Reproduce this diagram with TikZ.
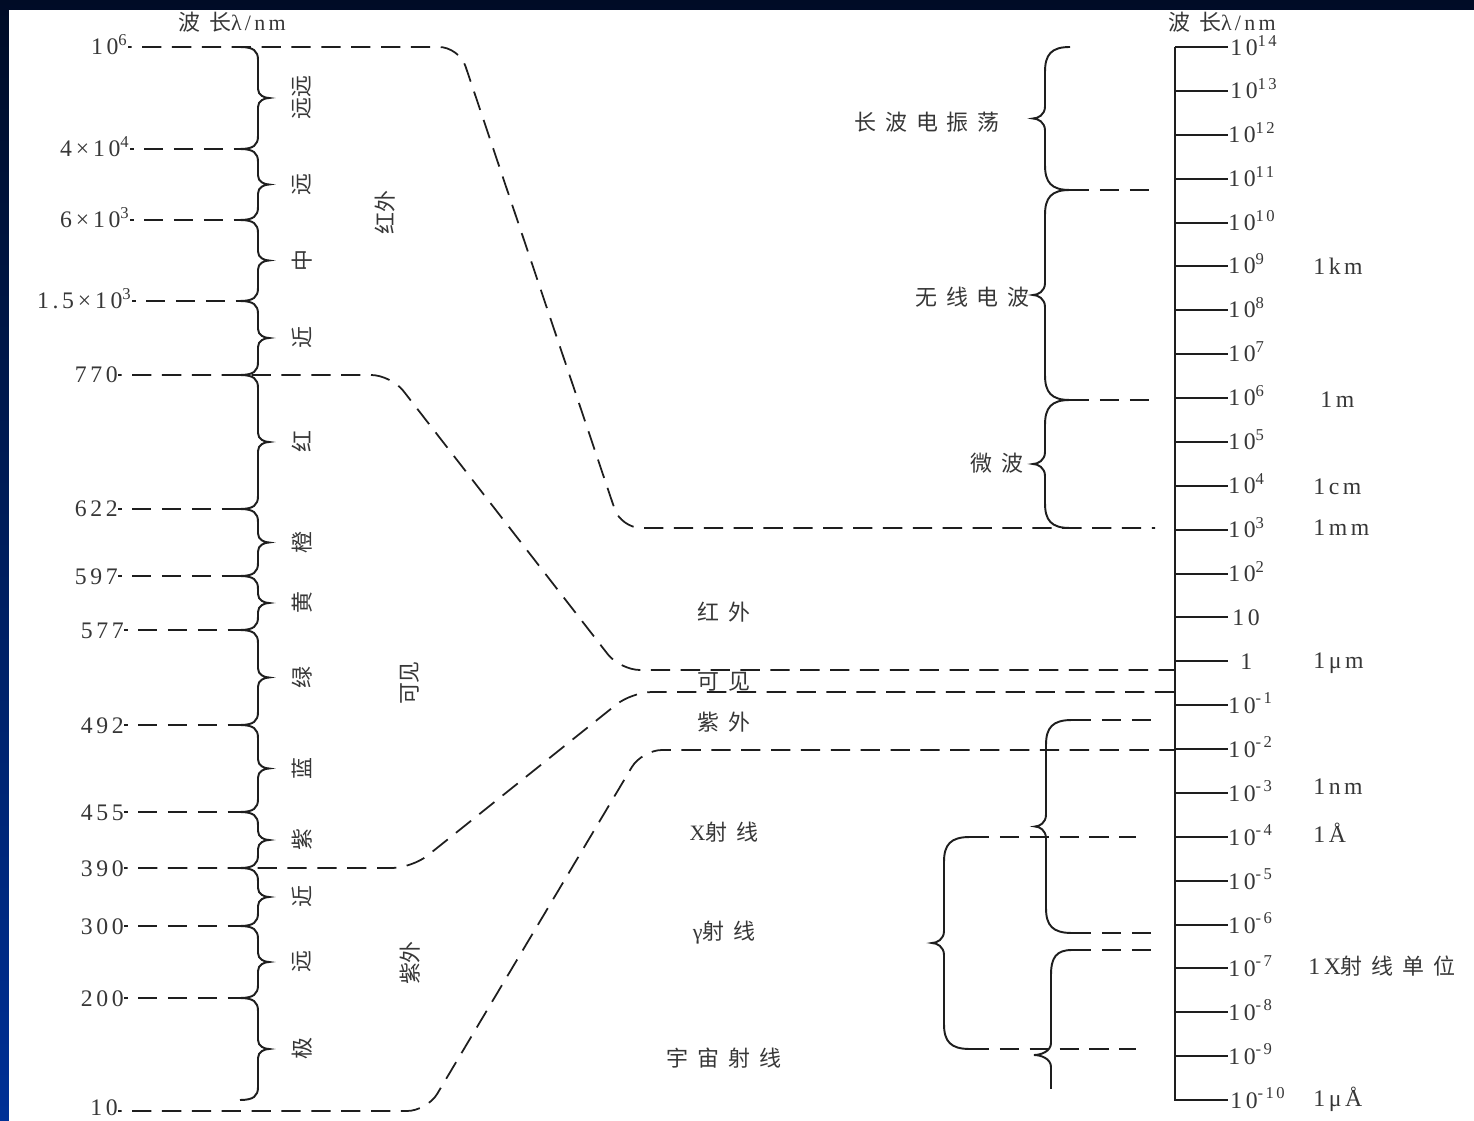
\documentclass[tikz,border=0pt]{standalone}
\usepackage{fontspec}
\setmainfont{Liberation Serif}[LetterSpace=15]
\newfontfamily\cjk{Noto Sans CJK SC}
\newfontfamily\cjkw{Noto Sans CJK SC}[LetterSpace=40]
\usepackage{tikz}
\definecolor{figline}{RGB}{30,30,30}
\definecolor{figtext}{RGB}{55,55,55}
\definecolor{slidetop}{RGB}{0,12,38}
\definecolor{slidebot}{RGB}{0,48,150}
\tikzset{
  ax/.style  ={draw=figline, line width=1.4pt},
  tk/.style  ={draw=figline, line width=1pt},
  brc/.style ={draw=figline, line width=1.1pt},
  dsh/.style ={draw=figline, line width=1pt, dash pattern=on 11pt off 6pt},
  dshl/.style={dsh, dash phase=9pt},
  num/.style ={font=\fontsize{13.5}{15}\selectfont, text=figtext, inner sep=0pt},
  zh/.style  ={font=\cjk\fontsize{12.5}{14}\selectfont, text=figtext, inner sep=0pt},
  zhw/.style ={font=\cjkw\fontsize{12.5}{14}\selectfont, text=figtext, inner sep=0pt},
  zhv/.style ={zh, rotate=90},
}
\newcommand\brc[7]{%
  \pgfmathsetmacro\bmid{(#2+#3)/2}
  \draw[brc] (#1,#2) .. controls ({#1+0.75*(#4)},#2) and ({#1+(#4)},{#2+0.3*(#6)}) .. ({#1+(#4)},{#2+(#6)})
    -- ({#1+(#4)},{\bmid-(#7)}) .. controls ({#1+(#4)},{\bmid-0.3*(#7)}) and ({#1+0.4*(#4)+0.6*(#5)},\bmid) .. ({#1+(#5)},\bmid)
    .. controls ({#1+0.4*(#4)+0.6*(#5)},\bmid) and ({#1+(#4)},{\bmid+0.3*(#7)}) .. ({#1+(#4)},{\bmid+(#7)})
    -- ({#1+(#4)},{#3-(#6)}) .. controls ({#1+(#4)},{#3-0.3*(#6)}) and ({#1+0.75*(#4)},#3) .. (#1,#3);}

\begin{document}
\begin{tikzpicture}[x=0.02cm,y=-0.02cm]
  \useasboundingbox (0,0) rectangle (1474,1121);
  \shade[top color=slidetop,bottom color=slidebot] (0,0) rectangle (1474,1121);
  \fill[white] (9,10) rectangle (1474,1121);

  \node[zhw,anchor=base] (hl) at (232,31) {波长{\rmfamily λ/nm}};
  \node[zhw,anchor=base] (hr) at (1222,31) {波长{\rmfamily λ/nm}};

  \coordinate (j1) at (240,47);
  \coordinate (j2) at (240,149);
  \coordinate (j3) at (240,220);
  \coordinate (j4) at (240,301);
  \coordinate (j5) at (240,375);
  \coordinate (j6) at (240,509);
  \coordinate (j7) at (240,576);
  \coordinate (j8) at (240,630);
  \coordinate (j9) at (240,725);
  \coordinate (j10) at (240,812);
  \coordinate (j11) at (240,868);
  \coordinate (j12) at (240,926);
  \coordinate (j13) at (240,998);
  \coordinate (j14) at (240,1111);

  \node[num,anchor=base east] (w1) at (128,55) {10\textsuperscript{6}};
  \node[num,anchor=base east] (w2) at (130,157) {4\,×\,10\textsuperscript{4}};
  \node[num,anchor=base east] (w3) at (130,228) {6\,×\,10\textsuperscript{3}};
  \node[num,anchor=base east] (w4) at (132,309) {1.5\,×\,10\textsuperscript{3}};
  \node[num,anchor=base east] (w5) at (118,383) {770};
  \node[num,anchor=base east] (w6) at (118,517) {622};
  \node[num,anchor=base east] (w7) at (118,584) {597};
  \node[num,anchor=base east] (w8) at (124,638) {577};
  \node[num,anchor=base east] (w9) at (124,733) {492};
  \node[num,anchor=base east] (w10) at (124,820) {455};
  \node[num,anchor=base east] (w11) at (124,876) {390};
  \node[num,anchor=base east] (w12) at (124,934) {300};
  \node[num,anchor=base east] (w13) at (124,1006) {200};
  \node[num,anchor=base east] (w14) at (118,1115) {10};

  \draw[dshl] (w2.east |- j2) -- (j2);
  \draw[dshl] (w3.east |- j3) -- (j3);
  \draw[dshl] (w4.east |- j4) -- (j4);
  \draw[dshl] (w6.east |- j6) -- (j6);
  \draw[dshl] (w7.east |- j7) -- (j7);
  \draw[dshl] (w8.east |- j8) -- (j8);
  \draw[dshl] (w9.east |- j9) -- (j9);
  \draw[dshl] (w10.east |- j10) -- (j10);
  \draw[dshl] (w12.east |- j12) -- (j12);
  \draw[dshl] (w13.east |- j13) -- (j13);

  \brc{240}{47}{149}{18}{29}{13}{9}
  \brc{240}{149}{220}{18}{29}{13}{9}
  \brc{240}{220}{301}{18}{29}{13}{9}
  \brc{240}{301}{375}{18}{29}{13}{9}
  \brc{240}{375}{509}{18}{29}{13}{9}
  \brc{240}{509}{576}{18}{29}{13}{9}
  \brc{240}{576}{630}{18}{29}{13}{9}
  \brc{240}{630}{725}{18}{29}{13}{9}
  \brc{240}{725}{812}{18}{29}{13}{9}
  \brc{240}{812}{868}{18}{29}{13}{9}
  \brc{240}{868}{926}{18}{29}{13}{9}
  \brc{240}{926}{998}{18}{29}{13}{9}
  \brc{240}{998}{1100}{18}{29}{13}{9}

  \node[zhv] (b1) at (302,98) {远远};
  \node[zhv] (b2) at (302,185) {远};
  \node[zhv] (b3) at (302,261) {中};
  \node[zhv] (b4) at (302,338) {近};
  \node[zhv] (b5) at (302,442) {红};
  \node[zhv] (b6) at (302,543) {橙};
  \node[zhv] (b7) at (302,603) {黄};
  \node[zhv] (b8) at (302,678) {绿};
  \node[zhv] (b9) at (302,769) {蓝};
  \node[zhv] (b10) at (302,840) {紫};
  \node[zhv] (b11) at (302,897) {近};
  \node[zhv] (b12) at (302,962) {远};
  \node[zhv] (b13) at (302,1049) {极};
  \node[zhv] (gir) at (385,213) {红外};
  \node[zhv] (gvis) at (410,683) {可见};
  \node[zhv] (guv) at (410,963) {紫外};

  \draw[ax] (1175,47) -- (1175,1100) -- (1228,1100);
  \draw[tk] (1175,47) -- (1228,47);
  \draw[tk] (1175,91) -- (1228,91);
  \draw[tk] (1175,135) -- (1228,135);
  \draw[tk] (1175,179) -- (1228,179);
  \draw[tk] (1175,223) -- (1228,223);
  \draw[tk] (1175,266) -- (1228,266);
  \draw[tk] (1175,310) -- (1228,310);
  \draw[tk] (1175,354) -- (1228,354);
  \draw[tk] (1175,398) -- (1228,398);
  \draw[tk] (1175,442) -- (1228,442);
  \draw[tk] (1175,486) -- (1228,486);
  \draw[tk] (1175,530) -- (1228,530);
  \draw[tk] (1175,574) -- (1228,574);
  \draw[tk] (1175,617) -- (1228,617);
  \draw[tk] (1175,661) -- (1228,661);
  \draw[tk] (1175,705) -- (1228,705);
  \draw[tk] (1175,749) -- (1228,749);
  \draw[tk] (1175,793) -- (1228,793);
  \draw[tk] (1175,837) -- (1228,837);
  \draw[tk] (1175,881) -- (1228,881);
  \draw[tk] (1175,925) -- (1228,925);
  \draw[tk] (1175,968) -- (1228,968);
  \draw[tk] (1175,1012) -- (1228,1012);
  \draw[tk] (1175,1056) -- (1228,1056);

  \node[num,anchor=base west] (e14) at (1230,56) {10\textsuperscript{14}};
  \node[num,anchor=base west] (e13) at (1230,99) {10\textsuperscript{13}};
  \node[num,anchor=base west] (e12) at (1228,143) {10\textsuperscript{12}};
  \node[num,anchor=base west] (e11) at (1228,187) {10\textsuperscript{11}};
  \node[num,anchor=base west] (e10) at (1228,231) {10\textsuperscript{10}};
  \node[num,anchor=base west] (e9) at (1228,274) {10\textsuperscript{9}};
  \node[num,anchor=base west] (e8) at (1228,318) {10\textsuperscript{8}};
  \node[num,anchor=base west] (e7) at (1228,362) {10\textsuperscript{7}};
  \node[num,anchor=base west] (e6) at (1228,406) {10\textsuperscript{6}};
  \node[num,anchor=base west] (e5) at (1228,450) {10\textsuperscript{5}};
  \node[num,anchor=base west] (e4) at (1228,494) {10\textsuperscript{4}};
  \node[num,anchor=base west] (e3) at (1228,538) {10\textsuperscript{3}};
  \node[num,anchor=base west] (e2) at (1228,582) {10\textsuperscript{2}};
  \node[num,anchor=base west] (e1) at (1232,625) {10};
  \node[num,anchor=base west] (e0) at (1240,669) {1};
  \node[num,anchor=base west] (em1) at (1228,713) {10\textsuperscript{-1}};
  \node[num,anchor=base west] (em2) at (1228,757) {10\textsuperscript{-2}};
  \node[num,anchor=base west] (em3) at (1228,801) {10\textsuperscript{-3}};
  \node[num,anchor=base west] (em4) at (1228,845) {10\textsuperscript{-4}};
  \node[num,anchor=base west] (em5) at (1228,889) {10\textsuperscript{-5}};
  \node[num,anchor=base west] (em6) at (1228,933) {10\textsuperscript{-6}};
  \node[num,anchor=base west] (em7) at (1228,976) {10\textsuperscript{-7}};
  \node[num,anchor=base west] (em8) at (1228,1020) {10\textsuperscript{-8}};
  \node[num,anchor=base west] (em9) at (1228,1064) {10\textsuperscript{-9}};
  \node[num,anchor=base west] (em10) at (1230,1108) {10\textsuperscript{-10}};

  \node[num,anchor=base west] (ukm) at (1313,275) {1km};
  \node[num,anchor=base west] (um) at (1320,408) {1m};
  \node[num,anchor=base west] (ucm) at (1313,495) {1cm};
  \node[num,anchor=base west] (umm) at (1313,536) {1mm};
  \node[num,anchor=base west] (uum) at (1313,668) {1μm};
  \node[num,anchor=base west] (unm) at (1313,794) {1nm};
  \node[num,anchor=base west] (uA) at (1313,842) {1Å};
  \node[num,anchor=base west] (ux) at (1308,974) {1X{\cjkw\fontsize{12.5}{14}\selectfont 射线单位}};
  \node[num,anchor=base west] (uuA) at (1313,1106) {1μÅ};

  \brc{1070}{47}{190}{-25}{-37}{25}{12}
  \brc{1070}{190}{400}{-25}{-37}{25}{12}
  \brc{1070}{400}{528}{-25}{-37}{25}{12}
  \node[zhw,anchor=east] (lw) at (1000,122) {长波电振荡};
  \node[zhw,anchor=east] (rw) at (1030,297) {无线电波};
  \node[zhw,anchor=east] (mw) at (1024,463) {微波};
  \draw[dsh] (1070,190) -- (1155,190);
  \draw[dsh] (1070,400) -- (1155,400);

  \draw[dshl,rounded corners=0.4cm] (w1.east |- j1) -- (459,47) -- (621,528) -- (1155,528);
  \draw[dshl,rounded corners=0.4cm] (w5.east |- j5) -- (391,375) -- (620,670) -- (1175,670);
  \draw[dshl,rounded corners=0.4cm] (w11.east |- j11) -- (412,868) -- (632,692) -- (1175,692);
  \draw[dshl,rounded corners=0.4cm] (w14.east |- j14) -- (427,1111) -- (642,750) -- (1175,750);

  \node[zhw] (tir) at (724,612) {红外};
  \node[zhw] (tvis) at (724,682) {可见};
  \node[zhw] (tuv) at (724,722) {紫外};
  \node[zhw] (txr) at (724,832) {{\rmfamily X}射线};
  \node[zhw] (tgr) at (724,933) {{\rmfamily γ}射线};
  \node[zhw] (tcr) at (724,1058) {宇宙射线};

  \brc{1072}{720}{933}{-26}{-37}{25}{12}
  \brc{970}{837}{1049}{-26}{-38}{25}{12}
  \begin{scope}
    \clip (1000,940) rectangle (1100,1088);
    \brc{1072}{950}{1160}{-21}{-38}{25}{12}
  \end{scope}
  \draw[dsh] (1072,720) -- (1155,720);
  \draw[dsh] (970,837) -- (1136,837);
  \draw[dsh] (1072,933) -- (1155,933);
  \draw[dsh] (1072,950) -- (1155,950);
  \draw[dsh] (970,1049) -- (1136,1049);
\end{tikzpicture}
\end{document}
